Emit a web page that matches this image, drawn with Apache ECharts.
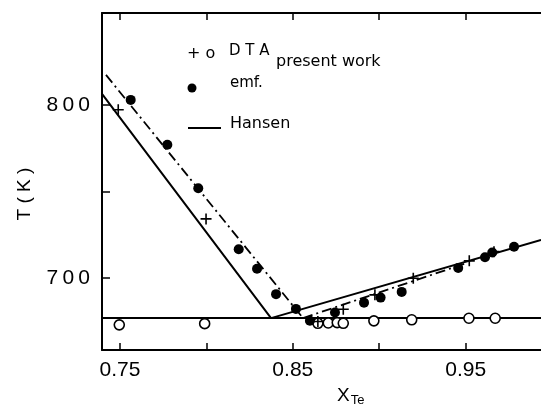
<!DOCTYPE html>
<html>
<head>
<meta charset="utf-8">
<script src="https://cdn.jsdelivr.net/npm/echarts@6/dist/echarts.min.js"></script>
<style>html,body{margin:0;padding:0;background:#fff}#c{width:541px;height:404px}</style>
</head>
<body>
<div id="c"></div>
<script>
// Axis ticks / labels
const xTicks = [0.75, 0.80, 0.85, 0.90, 0.95];
const xLabels = [0.75, 0.85, 0.95];
const yTicks = [700, 750, 800];
const yLabels = [700, 800];

// Hansen liquidus (solid)
const hansenLine = [[0.7396, 806.3], [0.8374, 677], [0.9936, 722.1]];
// eutectic horizontal
const eutecticLine = [[0.7396, 677], [0.9936, 677]];
// present work liquidus (dash-dot), two branches
const presentLeft = [[0.7419, 817.2], [0.8559, 677]];
const presentRight = [[0.8559, 677], [0.9508, 708.8]];

// emf (filled dots)
const emfX = [0.7562, 0.7774, 0.7953, 0.8187, 0.8293, 0.8403, 0.8518, 0.8599, 0.8744, 0.8912, 0.9008, 0.9130, 0.9457, 0.9612, 0.9654, 0.9780];
const emfT = [802.8, 776.9, 751.9, 716.7, 705.4, 690.8, 682.3, 675.5, 680.2, 685.9, 688.8, 692.1, 705.9, 712.1, 714.8, 718.1];
// DTA liquidus (+)
const dtaLiqX = [0.7490, 0.7998, 0.8645, 0.8792, 0.8975, 0.9197, 0.9521, 0.9664];
const dtaLiqT = [797.1, 734.2, 675.0, 682.1, 690.4, 700.0, 710.0, 715.3];
// DTA eutectic (o)
const dtaEutX = [0.7496, 0.7990, 0.8645, 0.8705, 0.8757, 0.8792, 0.8969, 0.9188, 0.9519, 0.9671];
const dtaEutT = [673.1, 673.8, 674.0, 674.2, 674.4, 674.0, 675.4, 676.0, 676.9, 676.9];

const zip = (a, b) => a.map((v, i) => [v, b[i]]);
const FONT = 'Liberation Sans';
const spaced = v => String(v).split('').join('\u2009');

const chart = echarts.init(document.getElementById('c'), null, {renderer: 'canvas'});
const axisLine = {show: true, onZero: false, lineStyle: {color: '#000', width: 2}};
chart.setOption({
  animation: false,
  backgroundColor: '#fff',
  grid: {left: 102, right: 0, top: 13, bottom: 54},
  xAxis: [{
    type: 'value', position: 'bottom', min: 0.7396, max: 0.9936,
    axisLine: axisLine, splitLine: {show: false},
    axisTick: {show: true, inside: true, length: 7, customValues: xTicks, lineStyle: {color: '#000', width: 1.5}},
    axisLabel: {customValues: xLabels, margin: 10, color: '#000', fontFamily: FONT, fontSize: 21,
      formatter: v => v.toFixed(2)}
  }, {
    type: 'value', position: 'top', min: 0.7396, max: 0.9936,
    axisLine: axisLine, splitLine: {show: false},
    axisTick: {show: true, inside: true, length: 7, customValues: xTicks, lineStyle: {color: '#000', width: 1.5}},
    axisLabel: {show: false}
  }],
  yAxis: [{
    type: 'value', min: 658.6, max: 852.9,
    axisLine: axisLine, splitLine: {show: false},
    axisTick: {show: true, inside: true, length: 8, customValues: yTicks, lineStyle: {color: '#000', width: 1.5}},
    axisLabel: {customValues: yLabels, margin: 12, color: '#000', fontFamily: FONT, fontSize: 21, formatter: spaced}
  }],
  series: [
    {type: 'line', data: eutecticLine, symbol: 'none', lineStyle: {color: '#000', width: 2}, z: 2},
    {type: 'line', data: hansenLine, symbol: 'none', lineStyle: {color: '#000', width: 2}, z: 2},
    {type: 'line', data: presentLeft, symbol: 'none', lineStyle: {color: '#000', width: 1.8, type: [10, 4, 2, 4]}, z: 2},
    {type: 'line', data: presentRight, symbol: 'none', lineStyle: {color: '#000', width: 1.8, type: [10, 4, 2, 4]}, z: 2},
    {type: 'scatter', data: zip(dtaEutX, dtaEutT), symbol: 'circle', symbolSize: 10,
      itemStyle: {color: '#fff', borderColor: '#000', borderWidth: 1.6, opacity: 1}, z: 3},
    {type: 'scatter', data: zip(emfX, emfT), symbol: 'circle', symbolSize: 10,
      itemStyle: {color: '#000', opacity: 1}, z: 4},
    {type: 'scatter', data: zip(dtaLiqX, dtaLiqT), symbol: 'path://M5,0L5,10M0,5L10,5', symbolSize: 11,
      itemStyle: {color: 'none', borderColor: '#000', borderWidth: 1.6, opacity: 1}, z: 5}
  ],
  graphic: [
    {type: 'text', left: 187, top: 46, style: {text: '+ o', font: '16px "DejaVu Sans"', fill: '#000'}},
    {type: 'text', left: 229, top: 44, style: {text: 'D T A', font: '15px "DejaVu Sans"', fill: '#000'}},
    {type: 'text', left: 276, top: 54, style: {text: 'present work', font: '16px "DejaVu Sans"', fill: '#000'}},
    {type: 'circle', shape: {cx: 192, cy: 88, r: 4.5}, style: {fill: '#000'}},
    {type: 'text', left: 230, top: 76, style: {text: 'emf.', font: '15px "DejaVu Sans"', fill: '#000'}},
    {type: 'line', shape: {x1: 188, y1: 128, x2: 221, y2: 128}, style: {stroke: '#000', lineWidth: 1.8}},
    {type: 'text', left: 230, top: 116, style: {text: 'Hansen', font: '16px "DejaVu Sans"', fill: '#000'}},
    {type: 'text', x: 25, y: 194, rotation: Math.PI / 2, style: {text: 'T ( K )', font: '19px "Liberation Sans"', fill: '#000', align: 'center', verticalAlign: 'middle'}},
    {type: 'text', left: 337, top: 386, style: {
      text: '{a|X}{b|Te}',
      rich: {a: {font: '19px "Liberation Sans"', fill: '#000'}, b: {font: '13px "Liberation Sans"', fill: '#000', padding: [10, 0, 0, 1]}}
    }}
  ]
});
</script>
</body>
</html>
